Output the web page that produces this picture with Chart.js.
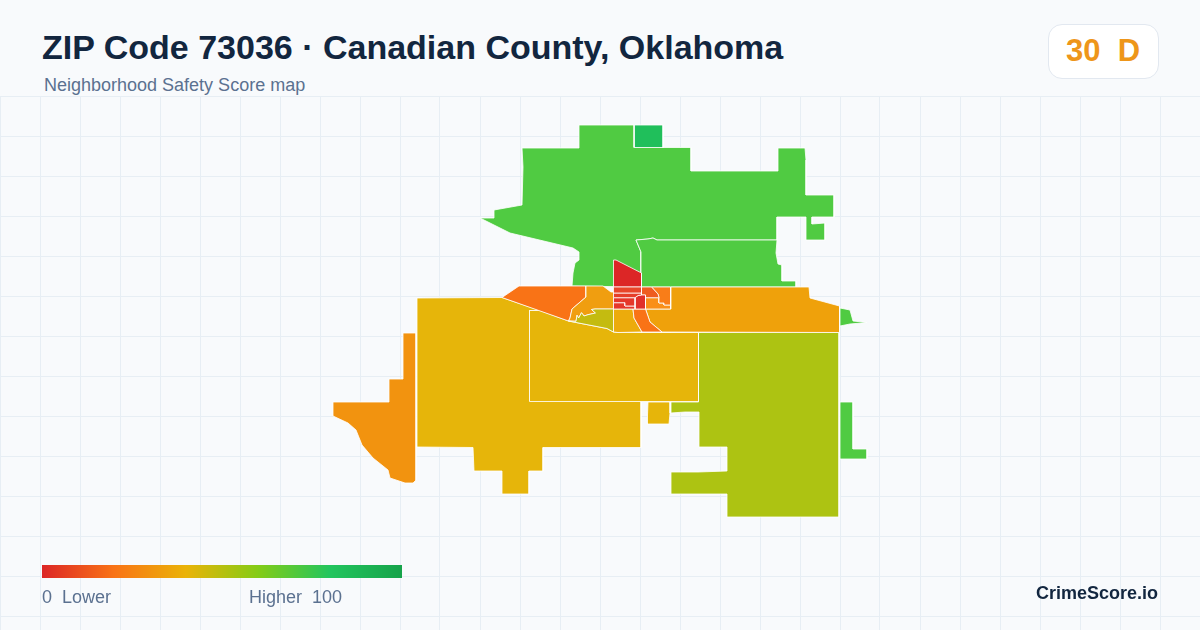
<!DOCTYPE html>
<html>
<head>
<meta charset="utf-8">
<title>ZIP Code 73036</title>
<script src="https://cdn.jsdelivr.net/npm/chart.js@4"></script>
<style>
  html, body { margin: 0; padding: 0; background: #f8fafc; }
  body { width: 1200px; height: 630px; overflow: hidden; position: relative; font-family: "Liberation Sans", Arial, sans-serif; }
  #map { position: absolute; left: 0; top: 96px; }
  .txt { position: absolute; white-space: pre; line-height: 1; }
  #title { left: 42px; top: 30px; font-size: 34px; font-weight: 700; color: #12263f; }
  #sub { left: 44px; top: 76px; font-size: 18px; color: #5b7190; }
  #badge { position: absolute; left: 1048px; top: 24px; width: 109px; height: 53px; background: #fff; border: 1px solid #e2e8f0; border-radius: 14px; }
  #score { left: 1066px; top: 35px; font-size: 31px; font-weight: 700; color: #ee961a; }
  #bar { position: absolute; left: 42px; top: 565px; width: 360px; height: 13px; background: linear-gradient(90deg, #dc2626 0%, #f97316 20%, #eab308 40%, #84cc16 60%, #22c55e 80%, #16a34a 100%); }
  #low { left: 42px; top: 588px; font-size: 18px; color: #5b7190; }
  #high { left: 249px; top: 588px; font-size: 18px; color: #5b7190; }
  #brand { left: 1036px; top: 584px; font-size: 18px; font-weight: 700; color: #12263f; }
</style>
</head>
<body>
<canvas id="map" width="1200" height="534"></canvas>
<div class="txt" id="title">ZIP Code 73036 · Canadian County, Oklahoma</div>
<div class="txt" id="sub">Neighborhood Safety Score map</div>
<div id="badge"></div>
<div class="txt" id="score">30  D</div>
<div id="bar"></div>
<div class="txt" id="low">0  Lower</div>
<div class="txt" id="high">Higher  100</div>
<div class="txt" id="brand">CrimeScore.io</div>
<script>
// 격자 눈금
const gridX = [0, 40, 80, 120, 160, 200, 240, 280, 320, 360, 400, 440, 480, 520, 560, 600, 640, 680, 720, 760, 800, 840, 880, 920, 960, 1000, 1040, 1080, 1120, 1160, 1200];
const gridY = [96, 136, 176, 216, 256, 296, 336, 376, 416, 456, 496, 536, 576, 616];

// 지역 경계 (지도 좌표)
const northMain = [[579,125],[634,125],[634,147.5],[691,147.5],[691,171],[778,171],[778,148],[805,148],[806,160],[806,195],[834,195],[834,217],[812,217],[812,224],[825,223],[825,240],[806,240],[806,217],[777,217],[777,240],[657,240],[653,238],[648,239],[636,240],[641,252],[641,287],[572,286],[573,273],[575,263],[579,260],[579,252],[573,248],[510,233],[480,218],[494,218],[494,210],[522,205],[523,167],[522,148],[579,148]];
const northSquare = [[634.5,125],[663,125],[663,147.5],[634.5,147.5]];
const northEast = [[636,240],[648,239],[653,238],[657,240],[777,240],[776,253],[778,264],[782,265],[782,281],[796,281],[796,287],[641,287],[641,252]];
const redTop = [[613.5,260],[616,260],[641.5,273],[641.5,287],[613.5,287]];
const westOrange = [[502,297.5],[519,286],[586,286],[586,297],[572,309],[570,318],[568.5,321]];
const midAmber = [[586,286],[603,286],[611,292],[613.5,292],[613.5,309],[595,309],[591.5,309.5],[595.5,313],[588,314.7],[584,316],[581.5,312.7],[578.7,318],[577,315.3],[576,321.3],[568.5,321],[570,318],[572,309],[586,297]];
const limePatch = [[613.5,309],[595,309],[591.5,309.5],[595.5,313],[588,314.7],[584,316],[581.5,312.7],[578.7,318],[577,315.3],[576,321.3],[568.5,321],[607,328.5],[613.5,332]];
const midYellow = [[613.5,309],[633,309],[634,318],[638,325],[642,332],[618,332.5],[613.5,332]];
const stripOrange = [[633,309],[645.5,309],[650,322],[662,332],[642,332],[638,325],[634,318]];
const eastAmber = [[671,287],[809,287],[810,298],[839.5,306],[839.5,332.5],[662,332],[650,322],[645.5,309],[671,309]];
const blockTop = [[613.5,287],[641.5,287],[641.5,293],[613.5,293]];
const blockRow = [[613.5,293],[641.5,293],[641.5,295],[638,295.5],[635,297.7],[613.5,297.7]];
const blockLeft = [[613.5,297.7],[635,297.7],[635,306],[625,306],[625,302.7],[613.5,302.7]];
const blockLow = [[613.5,302.7],[625,302.7],[625,306],[635,306],[635,309],[613.5,309]];
const blockRed = [[635,297.7],[638,295.5],[641.5,295],[645.5,295],[645.5,309],[635,309]];
const clusterRed = [[641.5,287],[651.5,287],[658,294],[659,297.7],[645.5,297.7],[645.5,295],[641.5,295]];
const clusterOrange = [[651.5,287],[670.5,287],[670.5,305],[664,305],[664,303],[659,303],[659,297.7],[658,294]];
const clusterAmber = [[645.5,297.7],[659,297.7],[659,303],[664,303],[664,305],[670.5,305],[670.5,309],[645.5,309]];
const southYellow = [[417,298],[502,297.5],[540,310.5],[529.5,310.5],[529.5,401],[641,401],[641,447.5],[543,447.5],[543,471],[529,471],[529,494],[502,494],[502,471],[474,471],[473,447.5],[417,447]];
const innerYellow = [[529.5,310.5],[540,310.5],[568.5,321],[607,328.5],[613.5,332],[618,332.5],[698.5,332.5],[698.5,401.5],[529.5,401.5]];
const smallYellow = [[648,402],[670,402],[670,413],[669,424],[647,424],[647.5,415]];
const farWest = [[403,333],[416,333],[416,480],[413,483],[405,483],[390,478],[388,470],[373,458],[362,445],[356,430],[348,423],[333,416],[333,402],[389,402],[389,379],[403,379]];
const eastLime = [[698.5,332.5],[839,332.5],[839,517],[727,517],[727,494],[671,494],[671,472],[698,472],[727,471],[727,447],[699,447],[699,412],[685,412],[671,413],[671,402],[698.5,402]];
const eastGreen = [[840,402],[853,402],[853,449],[867,449],[867,459],[840,459]];
const tipGreen = [[840,308],[850,310],[853,321],[867,322.5],[850,324],[840,326]];

const regionShapes = [blockTop, blockRow, blockLeft, blockLow, blockRed, clusterRed, clusterOrange, clusterAmber, redTop, stripOrange, midYellow, limePatch, midAmber, westOrange, eastAmber, innerYellow, southYellow, smallYellow, farWest, eastLime, eastGreen, tipGreen, northSquare, northEast, northMain];
const regionColors = ["#e8452a", "#e63d29", "#e5372a", "#e5372a", "#e1302a", "#ee5c20", "#f97d18", "#f98f18", "#dc2626", "#f97316", "#ecab0c", "#c4bb10", "#f09e10", "#f97316", "#efa10b", "#e6b50a", "#e6b50a", "#e6b50a", "#f2930f", "#adc312", "#50cb42", "#50cb42", "#20bf5b", "#50cb42", "#50cb42"];

new Chart(document.getElementById("map").getContext("2d"), {
    type: "scatter",
    data: {
        datasets: regionShapes.map((shape, i) => ({
            data: shape.concat([shape[0]]).map(p => ({ x: p[0], y: p[1] })),
            showLine: true,
            fill: "shape",
            tension: 0,
            pointRadius: 0,
            borderWidth: 0.8,
            borderColor: "#ffffff",
            backgroundColor: regionColors[i]
        }))
    },
    options: {
        responsive: false,
        animation: false,
        layout: { padding: 0 },
        plugins: { legend: { display: false }, tooltip: { enabled: false } },
        scales: {
            x: {
                type: "linear", min: 0, max: 1200,
                afterBuildTicks: s => { s.ticks = gridX.map(v => ({ value: v })); },
                ticks: { display: false },
                border: { display: false },
                grid: { color: "#e7eef4", drawTicks: false }
            },
            y: {
                type: "linear", min: 96, max: 630, reverse: true,
                afterBuildTicks: s => { s.ticks = gridY.map(v => ({ value: v })); },
                ticks: { display: false },
                border: { display: false },
                grid: { color: "#e7eef4", drawTicks: false }
            }
        }
    }
});
</script>
</body>
</html>
